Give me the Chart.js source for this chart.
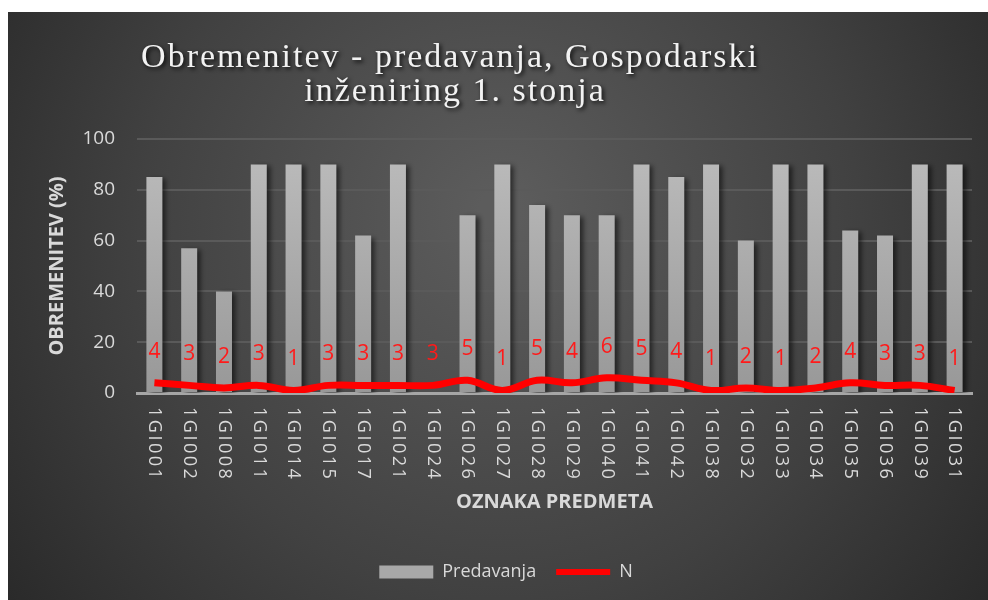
<!DOCTYPE html>
<html>
<head>
<meta charset="utf-8">
<script src="https://cdn.jsdelivr.net/npm/chart.js@4.4.0/dist/chart.umd.min.js"></script>
<style>
  html, body { margin: 0; padding: 0; background: #ffffff; }
  #wrap { width: 988px; height: 600px; position: relative; }
</style>
</head>
<body>
<div id="wrap"><canvas id="c" width="988" height="600"></canvas></div>
<script>
const categories = ['1GI001','1GI002','1GI008','1GI011','1GI014','1GI015','1GI017','1GI021','1GI024','1GI026','1GI027','1GI028','1GI029','1GI040','1GI041','1GI042','1GI038','1GI032','1GI033','1GI034','1GI035','1GI036','1GI039','1GI031'];
const predavanja = [85, 57, 40, 90, 90, 90, 62, 90, 0, 70, 90, 74, 70, 70, 90, 85, 90, 60, 90, 90, 64, 62, 90, 90];
const nValues = [4, 3, 2, 3, 1, 3, 3, 3, 3, 5, 1, 5, 4, 6, 5, 4, 1, 2, 1, 2, 4, 3, 3, 1];
const yTicks = [0, 20, 40, 60, 80, 100];
const titleLines = ['Obremenitev - predavanja, Gospodarski', 'inženiring 1. stonja'];
const yTitle = 'OBREMENITEV (%)';
const xTitle = 'OZNAKA PREDMETA';

const TEXT = '#d9d9d9';

const bgPlugin = {
  id: 'bg',
  beforeDraw(chart) {
    const ctx = chart.ctx;
    ctx.save();
    ctx.fillStyle = '#ffffff';
    ctx.fillRect(0, 0, chart.width, chart.height);
    const g = ctx.createRadialGradient(500, 210, 20, 500, 260, 640);
    g.addColorStop(0, '#5c5c5c');
    g.addColorStop(0.55, '#414141');
    g.addColorStop(1, '#262626');
    ctx.fillStyle = g;
    ctx.fillRect(8, 12, chart.width - 8, chart.height - 12);
    ctx.restore();
  }
};

const titlePlugin = {
  id: 'titleDraw',
  afterDraw(chart) {
    const ctx = chart.ctx;
    ctx.save();
    ctx.font = '34px "Liberation Serif", "DejaVu Serif", serif';
    ctx.letterSpacing = '2px';
    ctx.fillStyle = '#f2f2f2';
    ctx.textAlign = 'center';
    ctx.textBaseline = 'alphabetic';
    ctx.shadowColor = 'rgba(0,0,0,0.85)';
    ctx.shadowBlur = 4;
    ctx.shadowOffsetX = 2;
    ctx.shadowOffsetY = 2;
    ctx.fillText(titleLines[0], 450, 67);
    ctx.fillText(titleLines[1], 455, 101);
    ctx.restore();
  }
};

const shadowPlugin = {
  id: 'barShadow',
  beforeDatasetDraw(chart, args) {
    if (args.index === 0) {
      const ctx = chart.ctx;
      ctx.save();
      ctx.shadowColor = 'rgba(0,0,0,0.55)';
      ctx.shadowBlur = 5;
      ctx.shadowOffsetX = 4;
      ctx.shadowOffsetY = 2;
    }
  },
  afterDatasetDraw(chart, args) {
    if (args.index === 0) chart.ctx.restore();
  }
};

const xLabelPlugin = {
  id: 'xLabels',
  afterDraw(chart) {
    const ctx = chart.ctx;
    const xs = chart.scales.x;
    ctx.save();
    ctx.font = '18px "Open Sans", sans-serif';
    ctx.letterSpacing = '2.5px';
    ctx.fillStyle = TEXT;
    ctx.textAlign = 'left';
    ctx.textBaseline = 'middle';
    chart.data.labels.forEach((lab, i) => {
      const x = xs.getPixelForValue(i);
      ctx.save();
      ctx.translate(x, xs.top + 14);
      ctx.rotate(Math.PI / 2);
      ctx.fillText(lab, 0, 0);
      ctx.restore();
    });
    ctx.restore();
  }
};

const dataLabelPlugin = {
  id: 'nLabels',
  afterDatasetsDraw(chart) {
    const meta = chart.getDatasetMeta(1);
    const ctx = chart.ctx;
    ctx.save();
    ctx.font = '21px "Open Sans", sans-serif';
    ctx.fillStyle = '#ff1a1a';
    ctx.textAlign = 'center';
    ctx.textBaseline = 'middle';
    meta.data.forEach((pt, i) => {
      ctx.fillText(String(chart.data.datasets[1].data[i]), pt.x, pt.y - 31);
    });
    ctx.restore();
  }
};

const ctx = document.getElementById('c').getContext('2d');
new Chart(ctx, {
  data: {
    labels: categories,
    datasets: [
      {
        type: 'bar',
        label: 'Predavanja',
        data: predavanja,
        order: 1,
        backgroundColor: (c) => {
          const area = c.chart.chartArea;
          if (!area) return '#aaaaaa';
          const g = c.chart.ctx.createLinearGradient(0, area.top, 0, area.bottom);
          g.addColorStop(0, '#bdbdbd');
          g.addColorStop(1, '#989898');
          return g;
        },
        borderWidth: 0,
        barPercentage: 0.46,
        categoryPercentage: 1.0
      },
      {
        type: 'line',
        label: 'N',
        data: nValues,
        order: 0,
        borderColor: '#ff0000',
        backgroundColor: '#ff0000',
        borderWidth: 7,
        pointRadius: 0,
        tension: 0.4,
        fill: false
      }
    ]
  },
  options: {
    responsive: false,
    animation: false,
    layout: { padding: { left: 40, right: 16, top: 139, bottom: 9 } },
    plugins: {
      title: { display: false },
      tooltip: { enabled: false },
      legend: {
        display: true,
        position: 'bottom',
        labels: {
          color: TEXT,
          font: { family: '"Open Sans", sans-serif', size: 18 },
          usePointStyle: true,
          pointStyleWidth: 54,
          boxHeight: 13,
          padding: 20,
          generateLabels(chart) {
            return chart.data.datasets.map((ds, i) => ({
              text: ds.label,
              fillStyle: i === 0 ? '#a8a8a8' : '#ff0000',
              strokeStyle: i === 0 ? '#a8a8a8' : '#ff0000',
              lineWidth: i === 0 ? 0 : 6,
              pointStyle: i === 0 ? 'rect' : 'line',
              fontColor: TEXT,
              hidden: false,
              datasetIndex: i
            }));
          }
        }
      }
    },
    scales: {
      x: {
        afterFit(scale) { scale.height = 150; },
        grid: { display: false, drawTicks: false },
        border: { display: true, color: '#a6a6a6', width: 3 },
        ticks: { color: 'transparent', maxRotation: 90, minRotation: 90, autoSkip: false, font: { size: 17 } },
        title: {
          display: true,
          text: xTitle,
          color: TEXT,
          font: { family: '"Open Sans", sans-serif', size: 20, weight: 'bold' },
          padding: { top: 4, bottom: 29 }
        }
      },
      y: {
        min: 0,
        max: 100,
        afterFit(scale) { scale.width = 97; },
        afterBuildTicks(scale) { scale.ticks = yTicks.map(v => ({ value: v })); },
        grid: { color: '#5a5a5a', lineWidth: 2, drawTicks: false },
        border: { display: false },
        ticks: {
          color: TEXT,
          padding: 22,
          font: { family: '"Open Sans", sans-serif', size: 19 }
        },
        title: {
          display: true,
          text: yTitle,
          color: TEXT,
          font: { family: '"Open Sans", sans-serif', size: 20, weight: 'bold' },
          padding: { top: 5, bottom: 0 }
        }
      }
    }
  },
  plugins: [bgPlugin, shadowPlugin, dataLabelPlugin, xLabelPlugin, titlePlugin]
});
</script>
</body>
</html>
